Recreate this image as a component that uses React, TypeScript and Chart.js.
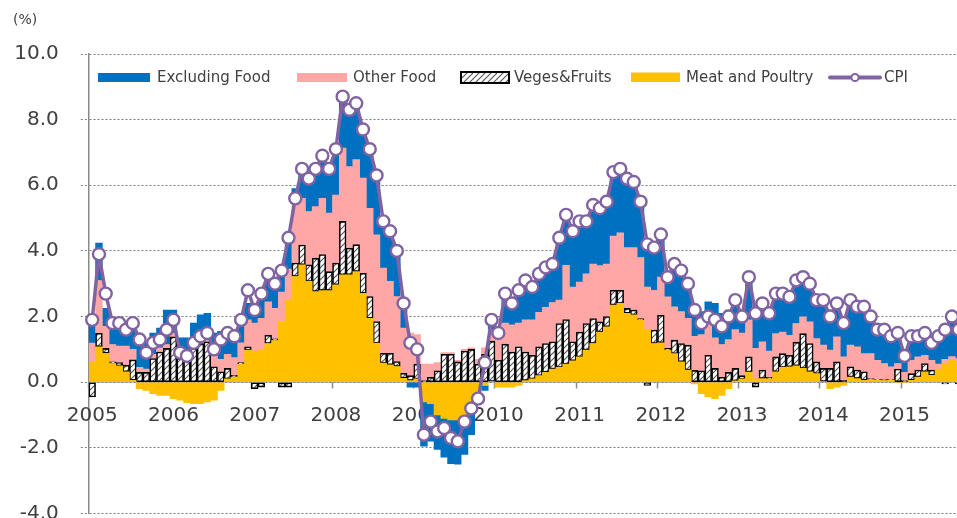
import React, { useEffect, useRef } from 'react';
import { Chart, registerables } from 'chart.js';

Chart.register(...registerables);

// ---- categories ----
const years = [2005, 2006, 2007, 2008, 2009, 2010, 2011, 2012, 2013, 2014, 2015];
const monthCodes = ['01', '02', '03', '04', '05', '06', '07', '08', '09', '10', '11', '12'];
const lastMonthCount = 129; // Jan 2005 .. Sep 2015
const monthLabels: string[] = years
  .flatMap((y) => monthCodes.map((m) => `${y}-${m}`))
  .slice(0, lastMonthCount);

// ---- series (contribution, % points) ----
const meatPoultry = [
  0.62, 1.08, 0.88, 0.57, 0.5, 0.32, 0.06, -0.2, -0.25, -0.35, -0.4, -0.4,
  -0.5, -0.55, -0.62, -0.65, -0.65, -0.6, -0.55, -0.25, 0.1, 0.16, 0.55, 0.98,
  0.95, 1.0, 1.18, 1.27, 1.85, 2.5, 3.22, 3.58, 3.07, 2.76, 2.79, 2.79,
  2.97, 3.27, 3.27, 3.37, 2.71, 1.95, 1.19, 0.58, 0.53, 0.48, 0.12, 0.05,
  0.1, -0.6, -0.65, -1.0, -1.1, -1.15, -1.15, -1.05, -0.85, -0.35, -0.1, 0.02,
  -0.15, -0.15, -0.15, -0.1, 0.05, 0.1, 0.2, 0.3, 0.4, 0.45, 0.55, 0.65,
  0.77, 0.98, 1.18, 1.53, 1.69, 2.35, 2.4, 2.1, 2.05, 1.89, 1.6, 1.18,
  1.2, 0.98, 0.87, 0.62, 0.37, -0.05, -0.35, -0.45, -0.5, -0.4, -0.2, 0.04,
  0.1, 0.31, 0.1, 0.11, 0.1, 0.32, 0.45, 0.47, 0.5, 0.42, 0.32, 0.26,
  0.02, -0.2, -0.15, -0.1, 0.16, 0.11, 0.06, 0.08, 0.06, 0.05, 0.06, 0.0,
  0.0, 0.06, 0.16, 0.32, 0.21, 0.4, 0.55, 0.68, 0.6,
];

const vegesFruits = [
  -0.45, 0.41, 0.15, 0.05, 0.1, 0.2, 0.62, 0.3, 0.3, 0.72, 0.92, 1.03,
  1.38, 0.72, 0.72, 1.03, 1.18, 1.23, 0.47, 0.32, 0.32, 0.05, 0.05, 0.1,
  -0.2, -0.15, 0.25, 0.05, -0.15, -0.15, 0.41, 0.6, 0.51, 1.02, 1.1, 0.58,
  0.66, 1.63, 0.82, 0.82, 0.61, 0.66, 0.66, 0.3, 0.35, 0.15, 0.15, 0.15,
  0.45, 0.05, 0.15, 0.35, 0.85, 0.85, 0.62, 0.95, 1.0, 0.55, 0.85, 1.23,
  0.67, 1.16, 0.92, 1.08, 0.87, 0.72, 0.88, 0.88, 0.83, 1.34, 1.36, 0.58,
  0.76, 0.81, 0.76, 0.31, 0.31, 0.45, 0.4, 0.15, 0.15, 0.05, -0.1, 0.41,
  0.84, 0.05, 0.41, 0.56, 0.76, 0.36, 0.35, 0.82, 0.42, 0.15, 0.3, 0.38,
  0.1, 0.46, -0.15, 0.26, 0.05, 0.45, 0.42, 0.35, 0.72, 1.06, 0.86, 0.36,
  0.4, 0.42, 0.62, 0.06, 0.31, 0.26, 0.26, 0.03, 0.02, 0.03, 0.02, 0.4,
  0.05, 0.2, 0.21, 0.25, 0.16, 0.0, -0.05, 0.0, -0.05,
];

const otherFood = [
  0.57, 1.61, 0.67, 0.53, 0.5, 0.58, 0.32, 0.15, 0.1, 0.13, 0.13, 0.12,
  0.12, 0.13, 0.13, 0.12, 0.12, 0.12, 0.33, 0.38, 0.43, 0.54, 0.6, 0.82,
  0.85, 0.95, 1.02, 0.93, 0.9, 0.95, 1.87, 1.42, 1.62, 1.57, 1.71, 1.78,
  2.07, 2.23, 2.48, 2.59, 2.9, 2.69, 2.64, 2.6, 2.19, 1.98, 1.38, 1.3,
  0.9, 0.5, 0.4, 0.25, 0.05, 0.05, 0.05, 0.05, 0.05, 0.15, 0.2, 0.35,
  0.63, 0.64, 0.83, 0.72, 0.98, 1.08, 1.05, 1.1, 1.2, 0.71, 1.65, 1.67,
  1.52, 1.51, 1.66, 1.71, 1.6, 1.65, 1.75, 1.85, 1.9, 1.86, 1.3, 1.21,
  1.16, 1.57, 1.02, 0.97, 0.82, 1.04, 1.1, 1.03, 0.93, 1.0, 1.0, 1.18,
  1.3, 1.13, 0.93, 0.86, 0.8, 0.71, 0.66, 0.61, 0.57, 0.51, 0.66, 0.71,
  0.71, 0.56, 0.76, 0.71, 0.66, 0.71, 0.55, 0.76, 0.59, 0.49, 0.39, 0.17,
  0.25, 0.41, 0.4, 0.25, 0.3, 0.15, 0.15, 0.1, 0.12,
];

const excludingFood = [
  0.55, 1.14, 0.55, 0.5, 0.55, 0.45, 0.65, 1.0, 0.8, 0.65, 0.6, 1.05,
  0.7, 0.5, 0.5, 0.65, 0.75, 0.75, 0.7, 0.85, 0.75, 0.75, 0.75, 0.5,
  0.5, 0.8, 0.82, 0.65, 0.8, 0.75, 0.4, 0.9, 1.0, 1.05, 1.2, 1.32,
  1.33, 1.57, 1.78, 1.72, 1.52, 1.83, 1.83, 1.52, 1.63, 1.48, 0.81, -0.15,
  -0.15, -1.35, -1.15, -1.05, -1.18, -1.33, -1.35, -1.15, -0.75, -0.3, -0.15, 0.3,
  0.25, 0.9, 0.65, 1.0, 1.2, 1.0, 1.2, 1.25, 1.2, 1.9, 1.55, 1.7,
  1.85, 1.6, 1.8, 1.75, 1.9, 1.95, 1.95, 2.1, 2.0, 1.7, 1.4, 1.3,
  1.35, 0.6, 1.3, 1.25, 1.05, 0.85, 0.7, 0.6, 1.05, 0.95, 0.9, 0.9,
  0.5, 1.3, 1.17, 1.17, 1.15, 1.22, 1.17, 1.17, 1.31, 1.21, 1.16, 1.17,
  1.37, 1.22, 1.17, 1.13, 1.37, 1.22, 1.43, 1.13, 0.93, 1.03, 0.93, 0.93,
  0.5, 0.73, 0.63, 0.68, 0.53, 0.85, 0.95, 1.22, 0.88,
];

const cpi = [
  1.9, 3.9, 2.7, 1.8, 1.8, 1.6, 1.8, 1.3, 0.9, 1.2, 1.3, 1.6,
  1.9, 0.9, 0.8, 1.2, 1.4, 1.5, 1.0, 1.3, 1.5, 1.4, 1.9, 2.8,
  2.2, 2.7, 3.3, 3.0, 3.4, 4.4, 5.6, 6.5, 6.2, 6.5, 6.9, 6.5,
  7.1, 8.7, 8.3, 8.5, 7.7, 7.1, 6.3, 4.9, 4.6, 4.0, 2.4, 1.2,
  1.0, -1.6, -1.2, -1.5, -1.4, -1.7, -1.8, -1.2, -0.8, -0.5, 0.6, 1.9,
  1.5, 2.7, 2.4, 2.8, 3.1, 2.9, 3.3, 3.5, 3.6, 4.4, 5.1, 4.6,
  4.9, 4.9, 5.4, 5.3, 5.5, 6.4, 6.5, 6.2, 6.1, 5.5, 4.2, 4.1,
  4.5, 3.2, 3.6, 3.4, 3.0, 2.2, 1.8, 2.0, 1.9, 1.7, 2.0, 2.5,
  2.0, 3.2, 2.1, 2.4, 2.1, 2.7, 2.7, 2.6, 3.1, 3.2, 3.0, 2.5,
  2.5, 2.0, 2.4, 1.8, 2.5, 2.3, 2.3, 2.0, 1.6, 1.6, 1.4, 1.5,
  0.8, 1.4, 1.4, 1.5, 1.2, 1.4, 1.6, 2.0, 1.6,
];

// ---- y axis ticks ----
const yMin = -4;
const yMax = 10;
const yStep = 2;

// ---- style ----
const FONT = '"DejaVu Sans", Verdana, sans-serif';
const TEXT = '#404040';
const BLUE = '#0070C0';
const PINK = '#FFA7A7';
const YELLOW = '#FFC000';
const PURPLE = '#8064A2';

function makeHatch(): CanvasPattern | string {
  const c = document.createElement('canvas');
  const s = 6;
  c.width = s;
  c.height = s;
  const g = c.getContext('2d');
  if (!g) return '#ffffff';
  g.fillStyle = '#ffffff';
  g.fillRect(0, 0, s, s);
  g.strokeStyle = '#5a5a5a';
  g.lineWidth = 1.2;
  g.beginPath();
  g.moveTo(0, s);
  g.lineTo(s, 0);
  g.moveTo(-1, 1);
  g.lineTo(1, -1);
  g.moveTo(s - 1, s + 1);
  g.lineTo(s + 1, s - 1);
  g.stroke();
  const p = g.createPattern(c, 'repeat');
  return p || '#ffffff';
}

export default function App() {
  const ref = useRef<HTMLCanvasElement>(null);

  useEffect(() => {
    const canvas = ref.current;
    if (!canvas) return;
    const hatch = makeHatch();

    // year labels just under the zero line, drawn behind the bars
    const yearLabelPlugin = {
      id: 'yearLabels',
      beforeDatasetsDraw(chart: any) {
        const ctx = chart.ctx as CanvasRenderingContext2D;
        const xs = chart.scales.x;
        const ys = chart.scales.y;
        const base = ys.getPixelForValue(0);
        ctx.save();
        ctx.font = `20px ${FONT}`;
        ctx.fillStyle = TEXT;
        ctx.textAlign = 'center';
        ctx.textBaseline = 'alphabetic';
        monthLabels.forEach((lab, i) => {
          if (lab.endsWith('-01')) {
            ctx.fillText(lab.slice(0, 4), xs.getPixelForValue(i), base + 38.5);
          }
        });
        ctx.restore();
      },
    };

    const legendPlugin = {
      id: 'customLegend',
      afterDraw(chart: any) {
        const ctx = chart.ctx as CanvasRenderingContext2D;
        ctx.save();
        // unit label
        ctx.font = `14px ${FONT}`;
        ctx.fillStyle = TEXT;
        ctx.textBaseline = 'alphabetic';
        ctx.textAlign = 'left';
        ctx.fillText('(%)', 13, 24);

        const ds = chart.data.datasets;
        ctx.font = `15px ${FONT}`;
        const ty = 81.5;
        // Excluding Food
        ctx.fillStyle = BLUE;
        ctx.fillRect(98, 73, 52, 9);
        ctx.fillStyle = TEXT;
        ctx.fillText(ds[3].label, 157, ty);
        // Other Food
        ctx.fillStyle = PINK;
        ctx.fillRect(297, 73, 50, 9);
        ctx.fillStyle = TEXT;
        ctx.fillText(ds[2].label, 353, ty);
        // Veges & Fruits
        ctx.fillStyle = hatch as any;
        ctx.fillRect(461, 72, 48, 11);
        ctx.strokeStyle = '#000';
        ctx.lineWidth = 2;
        ctx.strokeRect(461, 72, 48, 11);
        ctx.fillStyle = TEXT;
        ctx.fillText(ds[1].label, 514, ty);
        // Meat and Poultry
        ctx.fillStyle = YELLOW;
        ctx.fillRect(631, 72.5, 49, 9.5);
        ctx.fillStyle = TEXT;
        ctx.fillText(ds[0].label, 686, ty);
        // CPI
        ctx.strokeStyle = PURPLE;
        ctx.lineWidth = 4;
        ctx.lineCap = 'round';
        ctx.beginPath();
        ctx.moveTo(830, 77.5);
        ctx.lineTo(880, 77.5);
        ctx.stroke();
        ctx.beginPath();
        ctx.arc(855, 77.5, 3.6, 0, Math.PI * 2);
        ctx.fillStyle = '#fff';
        ctx.fill();
        ctx.lineWidth = 2;
        ctx.stroke();
        ctx.fillStyle = TEXT;
        ctx.fillText(ds[4].label, 884, ty);
        ctx.restore();
      },
    };

    const barCommon = {
      type: 'bar' as const,
      stack: 'bars',
      order: 1,
      categoryPercentage: 1.0,
      barPercentage: 1.0,
      borderWidth: 0,
    };

    const chart = new Chart(canvas, {
      type: 'bar',
      data: {
        labels: monthLabels,
        datasets: [
          { ...barCommon, label: 'Meat and Poultry', data: meatPoultry, backgroundColor: YELLOW },
          {
            ...barCommon,
            label: 'Veges&Fruits',
            data: vegesFruits,
            backgroundColor: hatch as any,
            borderColor: '#000000',
            borderWidth: 1.6,
            borderSkipped: false,
          },
          { ...barCommon, label: 'Other Food', data: otherFood, backgroundColor: PINK },
          { ...barCommon, label: 'Excluding Food', data: excludingFood, backgroundColor: BLUE },
          {
            type: 'line' as const,
            label: 'CPI',
            data: cpi,
            stack: 'cpi',
            order: 0,
            borderColor: PURPLE,
            borderWidth: 3.5,
            tension: 0,
            pointRadius: 6,
            pointBorderWidth: 2.4,
            pointBackgroundColor: '#ffffff',
            pointBorderColor: PURPLE,
            borderJoinStyle: 'round',
          } as any,
        ],
      },
      options: {
        responsive: false,
        animation: false,
        events: [],
        layout: { padding: { left: 0, right: 12.9, top: 54, bottom: 40.5 } },
        plugins: { legend: { display: false }, tooltip: { enabled: false }, title: { display: false } },
        scales: {
          x: {
            type: 'category',
            stacked: true,
            offset: true,
            position: { y: 0 } as any,
            afterFit: (scale: any) => {
              scale.height = 0;
            },
            grid: {
              offset: true,
              drawOnChartArea: false,
              drawTicks: true,
              tickLength: 6,
              tickWidth: 1.5,
              tickColor: (c: any) => (c.index % 12 === 0 ? '#8a8a8a' : 'rgba(0,0,0,0)'),
            },
            border: { display: true, color: '#8a8a8a', width: 1.5 },
            ticks: {
              display: false,
              autoSkip: false,
              maxRotation: 0,
              minRotation: 0,
            },
          },
          y: {
            stacked: true,
            min: yMin,
            max: yMax,
            afterFit: (scale: any) => {
              scale.width = 88.8;
            },
            grid: {
              color: '#7a7a7a',
              lineWidth: 1,
              drawTicks: true,
              tickLength: 8,
              tickBorderDash: [2, 2],
            },
            border: { display: true, color: '#8a8a8a', width: 1.5, dash: [2, 2] },
            ticks: {
              stepSize: yStep,
              padding: 22,
              color: TEXT,
              font: { family: FONT, size: 20 },
              callback: (v: any) => Number(v).toFixed(1),
            },
          },
        },
      },
      plugins: [yearLabelPlugin, legendPlugin],
    });

    return () => chart.destroy();
  }, []);

  return (
    <div
      style={{
        position: 'fixed',
        left: 0,
        top: 0,
        width: 957,
        height: 518,
        overflow: 'hidden',
        background: '#ffffff',
      }}
    >
      <canvas ref={ref} width={975} height={554} style={{ display: 'block', width: 975, height: 554 }} />
    </div>
  );
}
